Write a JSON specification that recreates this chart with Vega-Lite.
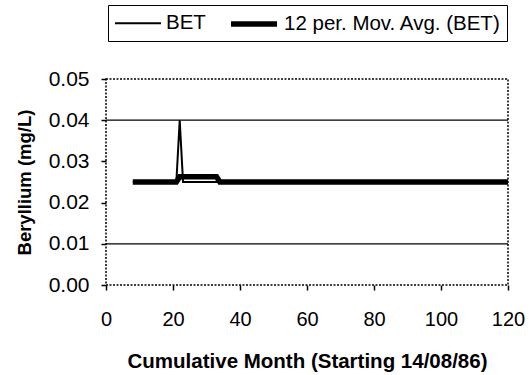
{
  "$schema": "https://vega.github.io/schema/vega-lite/v6.json",
  "width": 402,
  "height": 206,
  "autosize": {"type": "none"},
  "padding": {"left": 106, "top": 79, "right": 21, "bottom": 90},
  "background": "white",
  "config": {
    "font": "Liberation Sans",
    "view": {"stroke": "black", "strokeWidth": 1.5, "strokeDash": [2, 1.5]},
    "axis": {"domain": false, "grid": false, "tickColor": "black", "tickSize": 5, "tickWidth": 1.5, "labelColor": "black", "titleColor": "black", "labelFont": "Liberation Sans", "titleFont": "Liberation Sans", "labelFlush": false}
  },
  "datasets": {
    "series": [
      {"month": 8, "value": 0.025, "series": "BET"},
      {"month": 21, "value": 0.025, "series": "BET"},
      {"month": 22, "value": 0.04, "series": "BET"},
      {"month": 23, "value": 0.025, "series": "BET"},
      {"month": 120, "value": 0.025, "series": "BET"},
      {"month": 8, "value": 0.025, "series": "12 per. Mov. Avg. (BET)"},
      {"month": 21, "value": 0.025, "series": "12 per. Mov. Avg. (BET)"},
      {"month": 22, "value": 0.02625, "series": "12 per. Mov. Avg. (BET)"},
      {"month": 33, "value": 0.02625, "series": "12 per. Mov. Avg. (BET)"},
      {"month": 34, "value": 0.025, "series": "12 per. Mov. Avg. (BET)"},
      {"month": 120, "value": 0.025, "series": "12 per. Mov. Avg. (BET)"}
    ],
    "grid": [{"g": 0.04}, {"g": 0.01}]
  },
  "layer": [
    {
      "data": {"name": "grid"},
      "mark": {"type": "rule", "color": "black", "strokeWidth": 1.2},
      "encoding": {"y": {"field": "g", "type": "quantitative", "scale": {"domain": [0, 0.05]}}}
    },
    {
      "data": {"name": "series"},
      "mark": {"type": "line", "color": "black", "strokeJoin": "miter"},
      "encoding": {
        "x": {
          "field": "month", "type": "quantitative",
          "scale": {"domain": [0, 120], "nice": false},
          "axis": {"values": [0, 20, 40, 60, 80, 100, 120], "labelFontSize": 20, "labelPadding": 19, "title": "Cumulative Month (Starting 14/08/86)", "titleFontSize": 20.5, "titleFontWeight": "bold", "titlePadding": 22}
        },
        "y": {
          "field": "value", "type": "quantitative",
          "scale": {"domain": [0, 0.05], "nice": false},
          "axis": {"values": [0, 0.01, 0.02, 0.03, 0.04, 0.05], "format": ".2f", "labelFontSize": 21, "labelPadding": 12, "title": "Beryllium (mg/L)", "titleFontSize": 18.5, "titleFontWeight": "bold", "titlePadding": 14}
        },
        "strokeWidth": {
          "field": "series", "type": "nominal",
          "scale": {"domain": ["BET", "12 per. Mov. Avg. (BET)"], "range": [2, 5.5]},
          "legend": {
            "title": null, "orient": "none", "direction": "horizontal",
            "legendX": 2, "legendY": -74,
            "symbolType": "M-1,0H3.6", "symbolSize": 400, "symbolStrokeColor": "black",
            "labelFontSize": 20.5, "labelColor": "black", "labelLimit": 400,
            "strokeColor": "black", "padding": 6, "columnPadding": 14, "labelOffset": 30
          }
        },
        "order": {"field": "month", "type": "quantitative"}
      }
    }
  ]
}
